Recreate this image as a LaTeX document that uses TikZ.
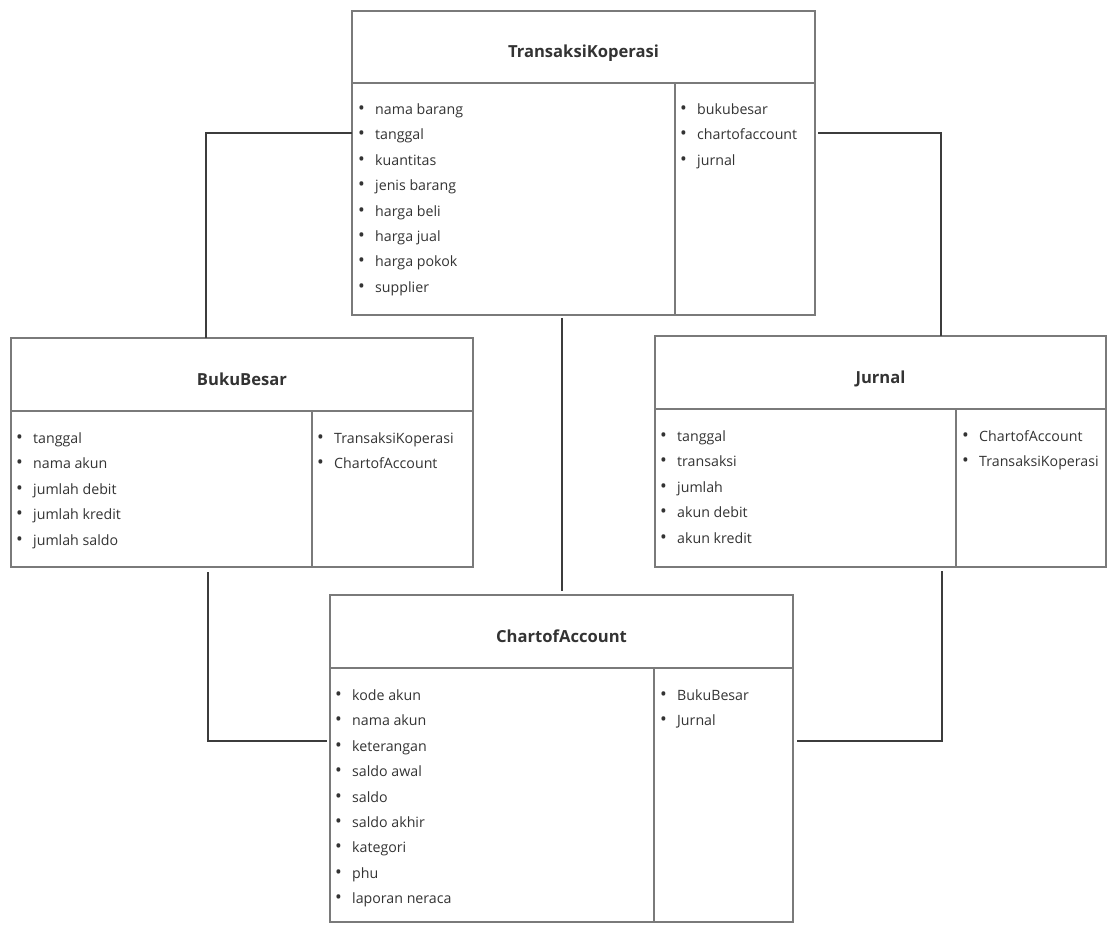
\documentclass[tikz,border=0pt]{standalone}
\usepackage{fontspec}
\setmainfont{Open Sans}
\usetikzlibrary{positioning}
\definecolor{boxgray}{HTML}{7A7A7A}
\definecolor{linkgray}{HTML}{3C3C3C}
\definecolor{txtgray}{HTML}{333333}
\tikzset{
  part/.style={draw=boxgray, line width=1.1pt, inner sep=0pt, outer sep=0pt, anchor=north west},
  title/.style={font=\fontsize{16.6}{18}\selectfont\bfseries, text=txtgray, anchor=base, inner sep=0pt},
  item/.style={font=\fontsize{14.2}{16}\selectfont, text=txtgray, anchor=base west, inner sep=0pt},
  link/.style={draw=linkgray, line width=1.1pt},
}
\newcommand{\itm}{\makebox[16pt][l]{\hspace{-1pt}{\fontsize{18}{18}\selectfont\textbullet}}}

\begin{document}
\begin{tikzpicture}[x=1pt,y=-1pt]
\useasboundingbox (0,0) rectangle (1109,925);

% TransaksiKoperasi
\node[part, minimum width=463pt, minimum height=72pt] (tk-head) at (352,11) {};
\node[part, minimum width=323pt, minimum height=232pt, below right=0pt and 0pt of tk-head.south west] (tk-attr) {};
\node[part, minimum width=140pt, minimum height=232pt, right=0pt of tk-attr] (tk-rel) {};
\node[title] (tk-name) at ([yshift=-11pt]tk-head.center) {TransaksiKoperasi};
\foreach \t [count=\i] in {nama barang,tanggal,kuantitas,jenis barang,harga beli,harga jual,harga pokok,supplier}
  \node[item] (tk-a\i) at (359,{114.5+25.4*(\i-1)}) {\itm\t};
\foreach \t [count=\i] in {bukubesar,chartofaccount,jurnal}
  \node[item] (tk-r\i) at (681,{114.5+25.4*(\i-1)}) {\itm\t};

% BukuBesar
\node[part, minimum width=462pt, minimum height=73pt] (bb-head) at (11,338) {};
\node[part, minimum width=301pt, minimum height=156pt, below right=0pt and 0pt of bb-head.south west] (bb-attr) {};
\node[part, minimum width=161pt, minimum height=156pt, right=0pt of bb-attr] (bb-rel) {};
\node[title] (bb-name) at ([yshift=-11pt]bb-head.center) {BukuBesar};
\foreach \t [count=\i] in {tanggal,nama akun,jumlah debit,jumlah kredit,jumlah saldo}
  \node[item] (bb-a\i) at (17,{443.5+25.4*(\i-1)}) {\itm\t};
\foreach \t [count=\i] in {TransaksiKoperasi,ChartofAccount}
  \node[item] (bb-r\i) at (318,{443.5+25.4*(\i-1)}) {\itm\t};

% Jurnal
\node[part, minimum width=451pt, minimum height=73pt] (jr-head) at (655,336) {};
\node[part, minimum width=301pt, minimum height=158pt, below right=0pt and 0pt of jr-head.south west] (jr-attr) {};
\node[part, minimum width=150pt, minimum height=158pt, right=0pt of jr-attr] (jr-rel) {};
\node[title] (jr-name) at ([yshift=-11pt]jr-head.center) {Jurnal};
\foreach \t [count=\i] in {tanggal,transaksi,jumlah,akun debit,akun kredit}
  \node[item] (jr-a\i) at (661,{441.5+25.4*(\i-1)}) {\itm\t};
\foreach \t [count=\i] in {ChartofAccount,TransaksiKoperasi}
  \node[item] (jr-r\i) at (963,{441.5+25.4*(\i-1)}) {\itm\t};

% ChartofAccount
\node[part, minimum width=463pt, minimum height=73pt] (coa-head) at (330,595) {};
\node[part, minimum width=324pt, minimum height=254pt, below right=0pt and 0pt of coa-head.south west] (coa-attr) {};
\node[part, minimum width=139pt, minimum height=254pt, right=0pt of coa-attr] (coa-rel) {};
\node[title] (coa-name) at ([yshift=-11pt]coa-head.center) {ChartofAccount};
\foreach \t [count=\i] in {kode akun,nama akun,keterangan,saldo awal,saldo,saldo akhir,kategori,phu,laporan neraca}
  \node[item] (coa-a\i) at (336,{700.5+25.4*(\i-1)}) {\itm\t};
\foreach \t [count=\i] in {BukuBesar,Jurnal}
  \node[item] (coa-r\i) at (661,{700.5+25.4*(\i-1)}) {\itm\t};

% relations
\coordinate (tk-left) at (206,133);
\coordinate (tk-right) at (941,133);
\coordinate (mid) at (562,450);
\coordinate (bb-bend) at (208,741);
\coordinate (jr-bend) at (942,741);
\draw[link] (tk-attr.west |- tk-left) -- (tk-left) -- (bb-head.north -| tk-left);
\draw[link, shorten <=3pt] (tk-rel.east |- tk-right) -- (tk-right) -- (jr-head.north -| tk-right);
\draw[link, shorten <=3pt, shorten >=4pt] (tk-attr.south -| mid) -- (coa-head.north -| mid);
\draw[link, shorten <=5pt, shorten >=3pt] (bb-attr.south -| bb-bend) -- (bb-bend) -- (coa-attr.west |- bb-bend);
\draw[link, shorten <=4pt, shorten >=4pt] (jr-attr.south -| jr-bend) -- (jr-bend) -- (coa-rel.east |- jr-bend);

\end{tikzpicture}
\end{document}
